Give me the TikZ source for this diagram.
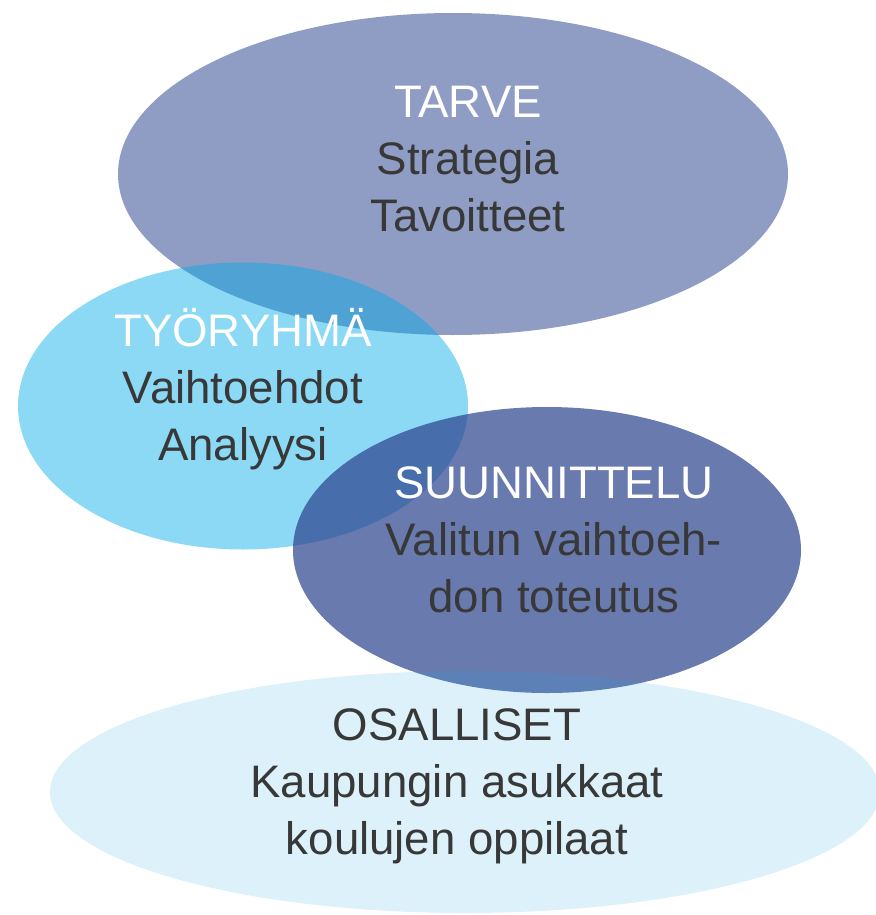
\documentclass[tikz,border=0pt]{standalone}
\usepackage{fontspec}
\setmainfont{Liberation Sans}
\usetikzlibrary{shapes.geometric}

\definecolor{tarveblue}{HTML}{8F9CC3}
\definecolor{tyocyan}{HTML}{00ABE9}
\definecolor{suunblue}{HTML}{2A418D}
\definecolor{osacyan}{HTML}{16A2DE}
\definecolor{textgray}{HTML}{383838}

\begin{document}
\begin{tikzpicture}[x=0.5pt, y=-0.5pt,
  blob/.style={ellipse, inner sep=0pt, draw=none},
  blobtext/.style={align=center, text=textgray, font=\fontsize{22.8}{28.5}\selectfont,
    execute at begin node=\strut, execute at end node=\strut}]
  \useasboundingbox (0,0) rectangle (875,915);

  % Ellipses, back to front
  \node[blob, fill=tarveblue, minimum width=335pt, minimum height=161pt] (tarve) at (453,174) {};
  \node[blob, fill=tyocyan, fill opacity=0.45, minimum width=225pt, minimum height=143.5pt] (tyo) at (243,406) {};
  \node[blob, fill=suunblue, fill opacity=0.7, minimum width=254pt, minimum height=143pt] (suun) at (547,550) {};
  \node[blob, fill=osacyan, fill opacity=0.15, minimum width=415pt, minimum height=121pt] (osa) at (465,792) {};

  % Texts
  \node[blobtext] (tarveText) at (468,167) {{\color{white}TARVE}\\Strategia\\Tavoitteet};
  \node[blobtext] (tyoText) at (243,393) {{\color{white}TYÖRYHMÄ}\\Vaihtoehdot\\Analyysi};
  \node[blobtext] (suunText) at (554,548) {{\color{white}SUUNNITTELU}\\Valitun vaihtoeh-\\don toteutus};
  \node[blobtext] (osaText) at (457,790) {OSALLISET\\Kaupungin asukkaat\\koulujen oppilaat};
\end{tikzpicture}
\end{document}
